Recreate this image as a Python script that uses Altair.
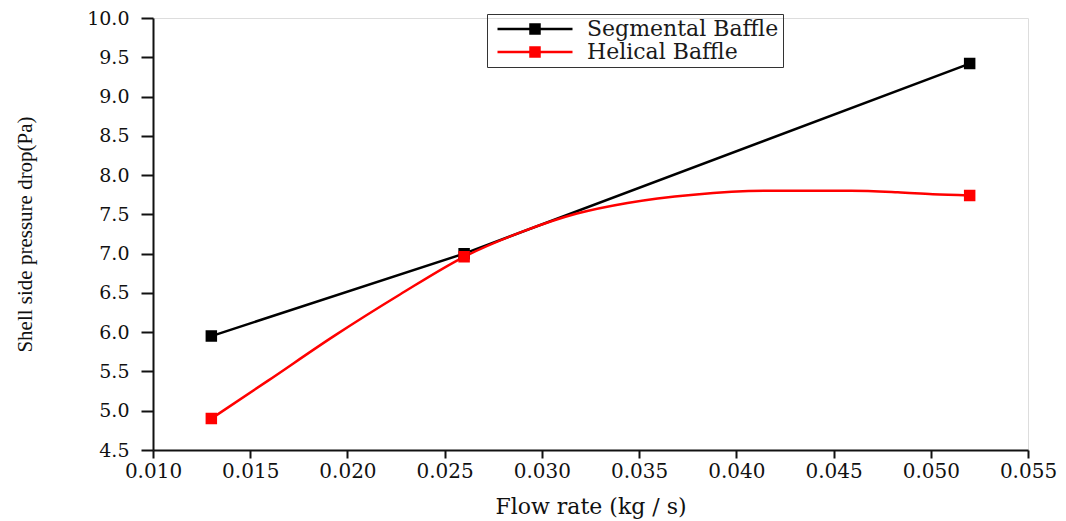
import altair as alt
import pandas as pd

flow = [0.013, 0.026, 0.052]
segmental = [5.95, 7.00, 9.42]
helical = [4.90, 6.96, 7.74]
# trace of the drawn smooth helical curve
helical_curve_flow = [0.013, 0.0159, 0.0193, 0.0227, 0.026, 0.029, 0.0318, 0.0344,
                      0.0378, 0.0416, 0.0459, 0.0483, 0.0501, 0.052]
helical_curve_dp = [4.90, 5.38, 5.95, 6.48, 6.96, 7.28, 7.51, 7.645,
                    7.75, 7.80, 7.80, 7.78, 7.755, 7.74]
series_names = ["Segmental Baffle", "Helical Baffle"]
series_colors = ["#000000", "#ff0000"]
x_ticks = [0.010, 0.015, 0.020, 0.025, 0.030, 0.035, 0.040, 0.045, 0.050, 0.055]
y_ticks = [4.5, 5.0, 5.5, 6.0, 6.5, 7.0, 7.5, 8.0, 8.5, 9.0, 9.5, 10.0]

rows = []
for f, v in zip(flow, segmental):
    rows.append({"flow": f, "dp": v, "series": series_names[0]})
for f, v in zip(flow, helical):
    rows.append({"flow": f, "dp": v, "series": series_names[1]})
df = pd.DataFrame(rows)

curve_df = pd.DataFrame({"flow": helical_curve_flow, "dp": helical_curve_dp,
                         "series": series_names[1]})

x_enc = alt.X(
    "flow:Q",
    scale=alt.Scale(domain=[0.010, 0.055], nice=False, zero=False),
    axis=alt.Axis(
        values=x_ticks, format=".3f", title="Flow rate (kg / s)",
        titleFont="DejaVu Serif", titleFontSize=22, titleFontWeight="normal",
        titleY=56, titleBaseline="middle", titleColor="#111",
        labelFont="DejaVu Serif", labelFontSize=20, labelColor="#111",
        labelPadding=3, tickSize=8, tickWidth=2, tickColor="#111",
        domainColor="#111", domainWidth=2, grid=False, labelFlush=False,
    ),
)
y_enc = alt.Y(
    "dp:Q",
    scale=alt.Scale(domain=[4.5, 10.0], nice=False, zero=False),
    axis=alt.Axis(
        values=y_ticks, format=".1f", title="Shell side pressure drop(Pa)",
        titleFont="Liberation Serif", titleFontSize=21, titleFontWeight="normal",
        titleX=-128, titleY=216, titleAngle=-90, titleBaseline="middle",
        titleAlign="center", titleColor="#111",
        labelFont="DejaVu Serif", labelFontSize=19, labelColor="#111",
        labelPadding=12, tickSize=12, tickWidth=2, tickColor="#111",
        domainColor="#111", domainWidth=2, grid=False,
    ),
)

color_scale = alt.Scale(domain=series_names, range=series_colors)

legend = alt.Legend(
    title=None, orient="none", legendX=334, legendY=-4,
    symbolType="M-7.5,0L7.5,0M-0.9,-0.9L0.9,-0.9L0.9,0.9L-0.9,0.9Z",
    symbolSize=100, symbolStrokeWidth=2.5, symbolOffset=33,
    labelOffset=41, labelFont="DejaVu Serif", labelFontSize=22,
    labelColor="#1a1a1a", labelLimit=400, rowPadding=1, padding=4,
    strokeColor="#333333",
)

line_seg = alt.Chart(df).transform_filter(
    alt.datum.series == series_names[0]
).mark_line(strokeWidth=2.5, interpolate="linear").encode(
    x=x_enc, y=y_enc,
    stroke=alt.Stroke("series:N", scale=color_scale, legend=legend, sort=series_names),
)

line_hel = alt.Chart(curve_df).mark_line(strokeWidth=2.5, interpolate="monotone").encode(
    x=x_enc, y=y_enc,
    stroke=alt.Stroke("series:N", scale=color_scale, legend=legend, sort=series_names),
)

points = alt.Chart(df).mark_point(shape="square", filled=True, size=90, opacity=1).encode(
    x=x_enc, y=y_enc,
    fill=alt.Fill("series:N", scale=color_scale, legend=legend, sort=series_names),
    stroke=alt.Stroke("series:N", scale=color_scale, legend=legend, sort=series_names),
)

chart = alt.layer(line_seg, line_hel, points).properties(
    width=875, height=432,
    autosize=alt.AutoSizeParams(type="none"),
    padding={"left": 153, "top": 18, "right": 38, "bottom": 71},
).configure_view(stroke=None).configure(background="white")

chart.save("out.html", embed_options={"renderer": "svg", "actions": False})
